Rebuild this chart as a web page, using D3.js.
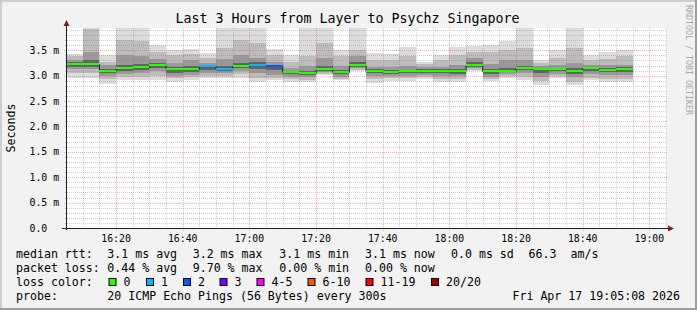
<!DOCTYPE html>
<html><head><meta charset="utf-8">
<script src="https://cdn.jsdelivr.net/npm/d3@7"></script>
<style>
html,body{margin:0;padding:0;background:#f2f2f2;}
svg{display:block;}
text{font-family:"DejaVu Sans Mono",monospace;fill:#000;white-space:pre;}
</style></head><body>
<svg id="chart" width="697" height="310"></svg>
<script>
// ---------------- data ----------------
const titleText = "Last 3 Hours from Layer to Psychz Singapore";
const barEnd = ["16:10","16:15","16:20","16:25","16:30","16:35","16:40","16:45","16:50","16:55",
  "17:00","17:05","17:10","17:15","17:20","17:25","17:30","17:35","17:40","17:45",
  "17:50","17:55","18:00","18:05","18:10","18:15","18:20","18:25","18:30","18:35",
  "18:40","18:45","18:50","18:55"];
// RTT quantiles in ms
const rttMax = [3.43,4.10,3.40,4.05,4.05,3.61,3.50,3.53,3.45,4.05,4.05,4.00,3.52,3.41,4.00,4.00,3.51,
  4.00,3.44,3.43,3.56,3.28,3.41,3.56,3.58,3.61,3.69,4.00,3.30,3.51,4.00,3.41,3.46,3.51];
const rttP90 = [3.38,3.93,3.28,3.70,3.68,3.46,3.40,3.42,3.35,3.54,3.70,3.64,3.40,3.28,3.38,3.65,3.38,
  3.51,3.30,3.30,3.38,3.24,3.30,3.40,3.46,3.46,3.50,3.55,3.25,3.35,3.55,3.30,3.33,3.38];
const rttP75 = [3.31,3.46,3.22,3.40,3.39,3.32,3.25,3.30,3.25,3.32,3.40,3.35,3.28,3.16,3.20,3.35,3.20,
  3.38,3.18,3.17,3.20,3.18,3.18,3.22,3.34,3.24,3.30,3.30,3.20,3.22,3.25,3.22,3.22,3.22];
const rttP60 = [3.27,3.30,3.14,3.22,3.23,3.26,3.18,3.20,3.22,3.20,3.26,3.27,3.22,3.10,3.10,3.20,3.11,
  3.28,3.13,3.12,3.12,3.13,3.13,3.14,3.27,3.13,3.15,3.20,3.16,3.16,3.15,3.18,3.16,3.17];
const rttMedian = [3.23,3.23,3.10,3.15,3.17,3.21,3.14,3.14,3.19,3.14,3.19,3.22,3.19,3.07,3.06,3.13,3.07,
  3.22,3.10,3.08,3.09,3.10,3.10,3.10,3.22,3.09,3.10,3.16,3.13,3.13,3.10,3.15,3.12,3.13];
const rttP40 = [3.18,3.18,3.05,3.10,3.12,3.16,3.06,3.08,3.12,3.10,3.15,3.14,3.12,3.03,3.02,3.10,3.03,
  3.18,3.05,3.04,3.05,3.06,3.05,3.04,3.18,3.04,3.07,3.12,3.05,3.09,3.04,3.10,3.07,3.08];
const rttP25 = [3.14,3.14,3.00,3.04,3.05,3.10,3.00,3.02,3.06,3.05,3.10,3.05,3.02,2.98,2.97,3.07,2.98,
  3.15,3.00,3.00,3.00,3.02,3.00,2.99,3.15,2.98,3.03,3.05,2.98,3.04,2.97,3.03,3.01,3.01];
const rttP10 = [3.05,3.05,2.94,2.98,2.97,3.00,2.95,2.97,3.00,3.00,3.03,2.95,2.95,2.93,2.92,3.04,2.94,
  3.12,2.93,2.95,2.95,2.97,2.93,2.93,3.12,2.93,2.99,2.97,2.90,2.99,2.88,2.96,2.94,2.94];
const rttMin = [2.96,2.96,2.84,2.91,2.91,2.91,2.87,2.91,2.95,2.96,2.96,2.87,2.91,2.87,2.87,3.02,2.91,
  3.09,2.86,2.90,2.90,2.93,2.87,2.87,3.09,2.90,2.96,2.91,2.81,2.96,2.81,2.91,2.87,2.87];
// lost pings (of 20) per interval
const lossPings = [0,0,0,0,0,0,0,0,1,1,0,1,2,0,0,0,0,0,0,0,0,0,0,0,0,0,0,0,0,0,0,0,0,0];

const xTickLabels = ["16:20","16:40","17:00","17:20","17:40","18:00","18:20","18:40","19:00"];
const yTickValues = [0,0.5,1.0,1.5,2.0,2.5,3.0,3.5];
const yTickLabels = ["0.0","0.5 m","1.0 m","1.5 m","2.0 m","2.5 m","3.0 m","3.5 m"];

const lossLabels = ["0","1","2","3","4-5","6-10","11-19","20/20"];
const lossUpper  = [0,1,2,3,5,10,19,20];
const lossColors = ["#26ff00","#00b8ff","#0059ff","#7e00ff","#ff00ff","#ff5500","#ff0000","#a10000"];

const legendRtt  = ["median rtt:","3.1 ms avg","3.2 ms max","3.1 ms min","3.1 ms now","0.0 ms sd","66.3","am/s"];
const legendLoss = ["packet loss:","0.44 % avg","9.70 % max","0.00 % min","0.00 % now"];
const probeText  = ["probe:","20 ICMP Echo Pings (56 Bytes) every 300s","Fri Apr 17 19:05:08 2026"];

// ---------------- layout ----------------
const W = 697, H = 310;
const L = 66.5, R = 666.5, T = 28, B = 228;
const svg = d3.select("#chart");
const parseHM = d3.timeParse("%H:%M"), parseHMS = d3.timeParse("%H:%M:%S");
const tStart = parseHMS("16:05:08"), tEnd = parseHMS("19:05:08");
const x = d3.scaleTime().domain([tStart, tEnd]).range([L, R]);
const y = d3.scaleLinear().domain([0, 3.94]).range([B, T]);
const step = 5 * 60 * 1000;

// background and 3D frame
svg.append("rect").attr("width", W).attr("height", H).attr("fill", "#f2f2f2");
svg.append("rect").attr("x",0).attr("y",0).attr("width",W).attr("height",2).attr("fill","#cfcfcf");
svg.append("rect").attr("x",0).attr("y",0).attr("width",2).attr("height",H).attr("fill","#cfcfcf");
svg.append("rect").attr("x",0).attr("y",H-2).attr("width",W).attr("height",2).attr("fill","#9e9e9e");
svg.append("rect").attr("x",W-2).attr("y",0).attr("width",2).attr("height",H).attr("fill","#9e9e9e");

// canvas
svg.append("rect").attr("x", L).attr("y", T).attr("width", R - L).attr("height", B - T).attr("fill", "#fff");
svg.append("clipPath").attr("id","plotclip").append("rect")
  .attr("x", L + 0.5).attr("y", T).attr("width", R - L - 0.5).attr("height", B - T);

// smoke
const bars = barEnd.map((e, i) => {
  const te = parseHM(e);
  return { t1: te, t0: new Date(+te - step), i };
});
const pairs = [
  [rttMin, rttMax, "#dcdcdc"],
  [rttP10, rttP90, "#bcbcbc"],
  [rttP25, rttP75, "#999999"],
  [rttP40, rttP60, "#626262"]
];
const gSmoke = svg.append("g").attr("clip-path", "url(#plotclip)");
pairs.forEach(([lo, hi, col]) => {
  gSmoke.selectAll(null).data(bars).enter().append("rect")
    .attr("x", d => x(d.t0)).attr("width", d => x(d.t1) - x(d.t0))
    .attr("y", d => y(hi[d.i])).attr("height", d => y(lo[d.i]) - y(hi[d.i]))
    .attr("fill", col).attr("shape-rendering", "crispEdges");
});

// grid (drawn over the smoke, as rrdtool does)
const gGrid = svg.append("g").attr("shape-rendering", "crispEdges");
const minorCol = "rgba(120,120,120,0.35)", majorCol = "rgba(225,60,60,0.4)";
const minorY = d3.range(1, 40).map(k => k / 10).filter(v => Math.abs(v * 2 - Math.round(v * 2)) > 1e-6);
minorY.forEach(v => {
  const yy = Math.round(y(v)) + 0.5;
  gGrid.append("line").attr("x1", L - 2).attr("x2", R).attr("y1", yy).attr("y2", yy)
    .attr("stroke", minorCol).attr("stroke-width", 1).attr("stroke-dasharray", "1,1");
});
const minorTimes = d3.timeMinute.every(5).range(tStart, tEnd).filter(t => t.getMinutes() % 20 !== 0);
minorTimes.forEach(t => {
  const xx = Math.round(x(t)) + 0.5;
  gGrid.append("line").attr("x1", xx).attr("x2", xx).attr("y1", T).attr("y2", B + 2)
    .attr("stroke", minorCol).attr("stroke-width", 1).attr("stroke-dasharray", "1,1");
});
yTickValues.filter(v => v > 0).forEach(v => {
  const yy = Math.round(y(v)) + 0.5;
  gGrid.append("line").attr("x1", L - 3).attr("x2", R).attr("y1", yy).attr("y2", yy)
    .attr("stroke", majorCol).attr("stroke-width", 1).attr("stroke-dasharray", "1,1");
});
xTickLabels.forEach(s => {
  const xx = Math.round(x(parseHM(s))) + 0.5;
  gGrid.append("line").attr("x1", xx).attr("x2", xx).attr("y1", T).attr("y2", B + 3)
    .attr("stroke", majorCol).attr("stroke-width", 1).attr("stroke-dasharray", "1,1");
});

// median: dark step line, then loss-coloured bands
const medPts = bars.map(d => [d.t0, rttMedian[d.i]]);
medPts.push([bars[bars.length - 1].t1, rttMedian[bars.length - 1]]);
svg.append("path").attr("clip-path", "url(#plotclip)")
  .attr("d", d3.line().x(d => x(d[0])).y(d => Math.round(y(d[1])) + 0.5).curve(d3.curveStepAfter)(medPts))
  .attr("fill", "none").attr("stroke", "#202020").attr("stroke-width", 1);
const lossIndex = n => lossUpper.findIndex(u => n <= u);
svg.append("g").attr("clip-path", "url(#plotclip)").selectAll("rect").data(bars).enter().append("rect")
  .attr("x", d => x(d.t0)).attr("width", d => x(d.t1) - x(d.t0))
  .attr("y", d => Math.round(y(rttMedian[d.i])) - 1).attr("height", 2)
  .attr("fill", d => lossColors[lossIndex(lossPings[d.i])]).attr("shape-rendering", "crispEdges");

// axes
const axisCol = "#1f1f1f", arrowCol = "#801f1f";
svg.append("line").attr("x1", L).attr("x2", L).attr("y1", B + 2).attr("y2", 22)
  .attr("stroke", axisCol).attr("stroke-width", 1);
svg.append("line").attr("x1", 62).attr("x2", 670).attr("y1", B + 0.5).attr("y2", B + 0.5)
  .attr("stroke", axisCol).attr("stroke-width", 1);
svg.append("path").attr("d", `M${L - 3},26 L${L + 3},26 L${L},20 Z`).attr("fill", arrowCol);
svg.append("path").attr("d", `M668,${B + 0.5 - 3} L668,${B + 0.5 + 3} L674,${B + 0.5} Z`).attr("fill", arrowCol);

// tick labels
svg.append("g").selectAll("text").data(yTickValues).enter().append("text")
  .attr("x", 29.5).attr("y", d => y(d) + 3.6).attr("font-size", "9.85px")
  .text((d, i) => yTickLabels[i]);
svg.append("g").selectAll("text").data(xTickLabels).enter().append("text")
  .attr("x", d => x(parseHM(d))).attr("y", 241.7).attr("text-anchor", "middle").attr("font-size", "9.85px")
  .text(d => d);

// title and axis title
svg.append("text").attr("x", 347.5).attr("y", 23.3).attr("text-anchor", "middle")
  .attr("font-size", "13.3px").text(titleText);
svg.append("text").attr("transform", "translate(15,128) rotate(-90)").attr("text-anchor", "middle")
  .attr("font-size", "11.6px").text("Seconds");
svg.append("text").attr("transform", "translate(685.5,60) rotate(90)").attr("text-anchor", "middle")
  .attr("font-size", "8.3px").style("fill", "#a6a6a6").text("RRDTOOL / TOBI OETIKER");

// legend
const lf = "11.6px";
const rttX = [16, 107.3, 192.7, 279.3, 365, 451, 528.5, 570.5];
legendRtt.forEach((s, i) => svg.append("text").attr("x", rttX[i]).attr("y", 258.3).attr("font-size", lf).text(s));
const lossX = [16, 107.3, 192.7, 279.3, 365];
legendLoss.forEach((s, i) => svg.append("text").attr("x", lossX[i]).attr("y", 272.3).attr("font-size", lf).text(s));
svg.append("text").attr("x", 16).attr("y", 286.3).attr("font-size", lf).text("loss color:");
const swX = [108.5, 146, 183, 219.5, 256.5, 307.5, 365.5, 431];
lossLabels.forEach((s, i) => {
  svg.append("rect").attr("x", swX[i] + 0.5).attr("y", 278.5).attr("width", 7).attr("height", 7)
    .attr("fill", lossColors[i]).attr("stroke", "#000").attr("stroke-width", 1);
  svg.append("text").attr("x", swX[i] + 15).attr("y", 286.3).attr("font-size", lf).text(s);
});
svg.append("text").attr("x", 16).attr("y", 300).attr("font-size", lf).text(probeText[0]);
svg.append("text").attr("x", 107.3).attr("y", 300).attr("font-size", lf).text(probeText[1]);
svg.append("text").attr("x", 680).attr("y", 300).attr("text-anchor", "end").attr("font-size", lf).text(probeText[2]);
</script>
</body></html>
